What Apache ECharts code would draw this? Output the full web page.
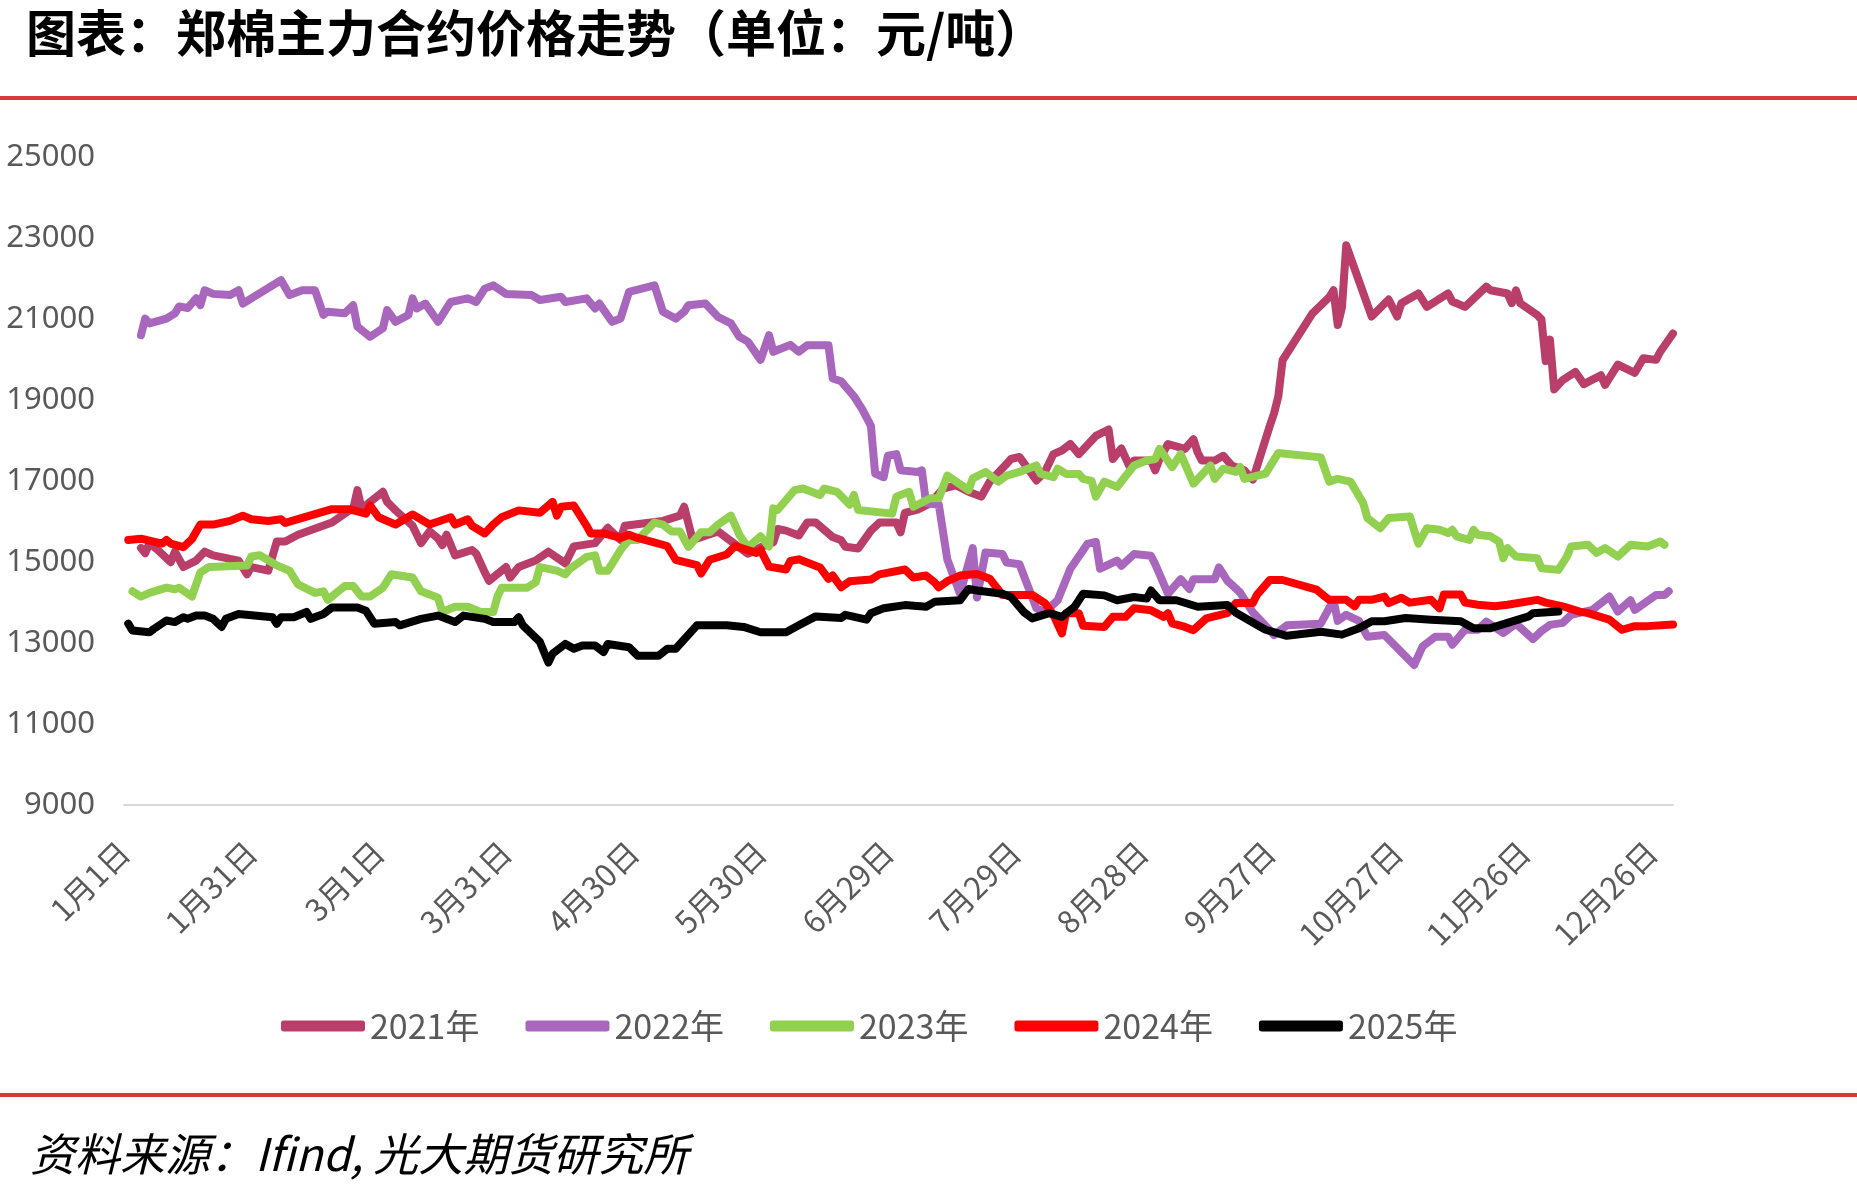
<!DOCTYPE html>
<html><head><meta charset="utf-8">
<script src="https://cdn.jsdelivr.net/npm/echarts@6/dist/echarts.min.js"></script>
<style>html,body{margin:0;padding:0;background:#fff}#c{width:1857px;height:1194px}</style>
</head><body><div id="c"></div>
<script>
// ---- data (day index in a 366-day calendar, value in 元/吨) ----
const seriesNames = ['2021年','2022年','2023年','2024年','2025年'];
const seriesColors = ['#B93E69','#A966BD','#92D050','#FF0000','#000000'];

const days2021 = [4,5,6,8,11,12,14,17,19,21,25,27,29,30,34,36,38,41,49,53,54,55,56,58,61,62,64,68,70,72,74,75,76,78,82,83,85,86,90,91,93,97,100,104,106,111,114,117,118,127,131,132,134,140,147,148,150,153,154,156,159,161,163,167,169,170,173,176,178,182,183,184,187,190,193,196,199,202,204,208,209,211,215,217,219,221,223,225,229,232,233,235,237,238,242,243,244,246,250,252,253,254,257,259,261,264,266,270,271,272,273,280,284,285,286,287,288,294,298,300,301,305,307,312,313,316,321,322,326,327,328,329,333,334,335,336,337,339,342,344,348,349,352,356,358,361,362,365];
const vals2021 = [15350,15220,15470,15300,15000,15260,14880,15040,15260,15170,15080,15040,14700,14880,14790,15510,15510,15680,15980,16270,16310,16780,16310,16490,16740,16490,16280,15900,15470,15760,15590,15420,15680,15170,15300,15210,14750,14540,14880,14620,14880,15040,15260,14970,15390,15470,15850,15550,15900,16020,16150,16370,15550,15760,15210,15250,15370,15490,15820,15780,15660,15980,15980,15620,15540,15380,15340,15780,15980,15980,15740,16220,16300,16460,16820,16900,16740,16620,16990,17430,17550,17600,17020,17230,17670,17760,17920,17670,18120,18280,17550,17810,17350,17510,17510,17270,17550,17920,17800,18040,17710,17510,17510,17630,17390,17270,17040,18370,18680,19100,19990,21140,21550,21720,20860,21300,22830,21070,21490,21070,21400,21640,21310,21640,21440,21310,21810,21720,21640,21400,21720,21400,21110,21000,19970,20500,19270,19500,19700,19400,19620,19380,19880,19680,20040,20000,20200,20650];

const days2022 = [4,5,6,10,12,13,15,17,18,19,21,25,27,28,37,39,42,45,47,48,52,54,55,58,61,62,64,67,68,69,71,74,76,77,81,83,85,87,90,96,98,103,104,109,111,112,115,117,119,125,127,130,132,133,137,140,143,145,147,150,152,153,157,159,161,166,167,169,172,174,176,177,179,180,182,183,187,188,189,192,194,197,200,201,203,207,208,211,215,217,220,223,227,229,230,234,235,238,242,243,246,249,251,252,257,258,260,263,266,270,271,274,282,285,286,288,291,293,297,299,304,306,309,312,313,316,319,321,325,328,332,334,336,339,341,346,350,352,355,356,361,363,364];
const vals2022 = [20610,21020,20900,21020,21150,21320,21280,21520,21350,21720,21630,21600,21720,21390,21970,21600,21720,21720,21110,21190,21150,21350,20820,20570,20780,21230,20940,21110,21520,21270,21390,20940,21270,21430,21520,21430,21760,21840,21630,21600,21480,21560,21430,21520,21270,21390,20940,21020,21680,21840,21190,21020,21190,21350,21390,21060,20900,20570,20450,20000,20610,20200,20370,20200,20360,20360,19540,19470,19100,18770,18370,17190,17100,17630,17670,17270,17230,17270,16460,16420,15070,14220,15350,14130,15240,15200,14990,14950,13860,13770,14060,14840,15450,15500,14840,15040,14910,15200,15160,14950,14220,14580,14340,14580,14580,14870,14540,14250,13760,13320,13200,13440,13480,14060,13550,13700,13550,13160,13200,12990,12460,12920,13160,13160,12960,13330,13330,13530,13250,13480,13100,13300,13450,13500,13700,13820,14150,13780,14060,13820,14190,14190,14280];

const days2023 = [2,4,6,10,12,13,16,18,20,29,30,32,36,39,41,45,47,48,52,54,56,58,61,63,68,70,74,75,78,81,84,87,88,89,95,97,98,102,104,105,109,111,112,114,117,118,119,121,125,127,129,131,133,136,138,140,143,145,147,149,150,152,153,154,158,160,164,165,168,171,172,173,181,182,185,186,190,192,194,199,200,203,206,208,211,215,216,219,220,222,225,226,228,229,231,234,238,241,243,244,247,249,252,256,257,259,262,263,264,269,272,282,284,286,289,292,293,296,298,303,305,307,310,312,313,314,317,318,319,322,324,325,326,328,333,334,338,340,341,345,347,349,352,355,359,362,363];
const vals2023 = [14280,14150,14240,14370,14330,14370,14150,14750,14880,14920,15140,15170,14920,14790,14450,14240,14280,14070,14410,14410,14150,14150,14370,14700,14620,14280,14120,13770,13900,13900,13770,13770,14150,14370,14370,14500,14880,14790,14700,14830,15130,15170,14790,14790,15300,15430,15550,15550,15980,15930,15760,15760,15380,15740,15740,15930,16150,15680,15370,15550,15640,15390,16330,16290,16780,16820,16660,16820,16740,16420,16660,16290,16200,16620,16740,16370,16580,16580,17140,16780,17070,17230,16990,17140,17230,17390,17180,17100,17310,17180,17180,17060,17010,16620,16990,16860,17390,17510,17550,17800,17350,17670,16940,17390,17060,17310,17230,17350,17060,17190,17700,17590,16990,17060,16990,16460,16090,15840,16090,16130,15460,15840,15800,15720,15800,15640,15550,15800,15680,15640,15510,15100,15350,15140,15100,14850,14810,15140,15390,15430,15230,15350,15140,15430,15390,15510,15430];

const days2024 = [1,4,9,10,11,14,16,18,21,25,28,30,34,37,38,49,53,57,58,60,64,68,72,77,78,81,82,85,87,89,93,98,101,102,103,106,109,110,113,117,119,121,128,130,135,136,138,142,144,149,150,152,156,157,159,164,166,167,169,171,176,178,184,186,189,191,192,194,197,201,204,207,214,217,219,221,222,225,226,231,233,236,238,242,245,246,247,250,252,255,260,262,266,267,270,273,281,283,284,288,290,291,294,297,298,301,303,308,310,311,315,316,319,323,326,333,335,339,343,345,350,353,356,359,365];
const vals2024 = [15550,15580,15460,15550,15460,15370,15570,15930,15930,16020,16150,16060,16020,16060,15970,16310,16310,16200,16400,16110,15930,16180,15930,16110,15930,16060,15900,15710,15930,16110,16280,16220,16490,16150,16370,16400,15900,15710,15710,15600,15680,15600,15400,15060,14930,14720,15060,15190,15400,15230,15300,14890,14820,15030,15070,14870,14590,14670,14380,14530,14570,14700,14820,14620,14670,14500,14380,14530,14670,14710,14590,14190,14190,13990,13700,13240,13740,13740,13430,13400,13650,13650,13860,13810,13650,13740,13490,13400,13320,13610,13740,13990,13990,14200,14560,14560,14320,14150,14070,14070,13910,14070,14070,14150,13990,14120,14000,14070,13860,14200,14200,14000,13950,13910,13950,14070,14000,13910,13780,13740,13580,13330,13420,13420,13460];

const days2025 = [1,2,6,7,10,12,14,15,17,19,21,23,24,27,35,36,37,40,43,44,47,49,55,57,59,64,65,70,74,78,80,85,87,92,93,94,98,100,101,104,106,108,111,113,114,119,121,126,128,130,135,142,146,150,156,159,163,169,170,175,176,179,184,189,191,197,199,201,207,209,212,214,218,221,224,226,231,234,238,241,242,244,248,253,260,262,267,269,274,282,287,291,294,297,302,308,315,318,322,326,331,332,338];
const vals2025 = [13480,13310,13270,13350,13560,13520,13640,13600,13680,13680,13600,13400,13600,13720,13640,13480,13640,13640,13770,13600,13720,13880,13880,13800,13480,13520,13440,13600,13680,13520,13680,13600,13520,13520,13640,13440,13030,12520,12740,12980,12860,12940,12940,12780,12980,12900,12690,12690,12860,12860,13440,13440,13400,13270,13270,13440,13660,13620,13700,13580,13740,13860,13940,13900,14020,14060,14340,14300,14220,14140,13770,13610,13740,13650,13900,14220,14180,14060,14140,14100,14300,14060,14060,13900,13940,13750,13450,13330,13180,13280,13210,13370,13540,13540,13620,13580,13540,13370,13370,13500,13660,13740,13780];

const yMin = 9000, yMax = 25000, yStep = 2000;
const monthLengths = [31,29,31,30,31,30,31,31,30,31,30,31];
const categories = [];
monthLengths.forEach((n, m) => { for (let d = 1; d <= n; d++) categories.push((m + 1) + '月' + d + '日'); });

const allDays = [days2021, days2022, days2023, days2024, days2025];
const allVals = [vals2021, vals2022, vals2023, vals2024, vals2025];

const chart = echarts.init(document.getElementById('c'), null, {renderer: 'canvas'});
const series = seriesNames.map((name, i) => ({
  name, type: 'line', showSymbol: false, symbol: 'none', smooth: false,
  data: allDays[i].map((d, k) => [d, allVals[i][k]]),
  lineStyle: {width: 8, color: seriesColors[i], cap: 'round', join: 'round'},
  itemStyle: {color: seriesColors[i]},
  z: 2 + i
}));

chart.setOption({
  animation: false,
  backgroundColor: '#ffffff',
  grid: {left: 124, right: 184, top: 157.5, bottom: 389, containLabel: false, outerBoundsMode: 'none'},
  xAxis: {
    type: 'category', data: categories, boundaryGap: false,
    axisLine: {show: true, lineStyle: {color: '#D9D9D9', width: 2}},
    axisTick: {show: false},
    axisLabel: {interval: 29, rotate: 45, margin: 42, color: '#595959', fontSize: 31, fontFamily: 'Noto Sans CJK SC'},
    splitLine: {show: false}
  },
  yAxis: {
    type: 'value', min: yMin, max: yMax, interval: yStep,
    axisLine: {show: false}, axisTick: {show: false}, splitLine: {show: false},
    axisLabel: {margin: 29, color: '#595959', fontSize: 31, fontFamily: 'Noto Sans', formatter: v => String(v)}
  },
  legend: {
    data: seriesNames, left: 281, top: 1009, icon: 'roundRect',
    itemWidth: 84, itemHeight: 11, itemGap: 46, padding: 0,
    textStyle: {color: '#595959', fontSize: 34, fontFamily: 'Noto Sans CJK SC'}
  },
  graphic: [
    {type: 'text', left: 26, top: 8, style: {text: '图表：郑棉主力合约价格走势（单位：元/吨）', fill: '#000', font: 'bold 50px "Noto Sans CJK SC"'}},
    {type: 'rect', left: 0, top: 96, shape: {width: 1857, height: 4}, style: {fill: '#D7373F'}},
    {type: 'rect', left: 0, top: 1093, shape: {width: 1857, height: 4}, style: {fill: '#D7373F'}},
    {type: 'text', left: 30, top: 1131, style: {text: '资料来源：Ifind, 光大期货研究所', fill: '#000', font: 'italic 45px "Noto Sans CJK SC"'}}
  ],
  series
});
</script>
</body></html>
